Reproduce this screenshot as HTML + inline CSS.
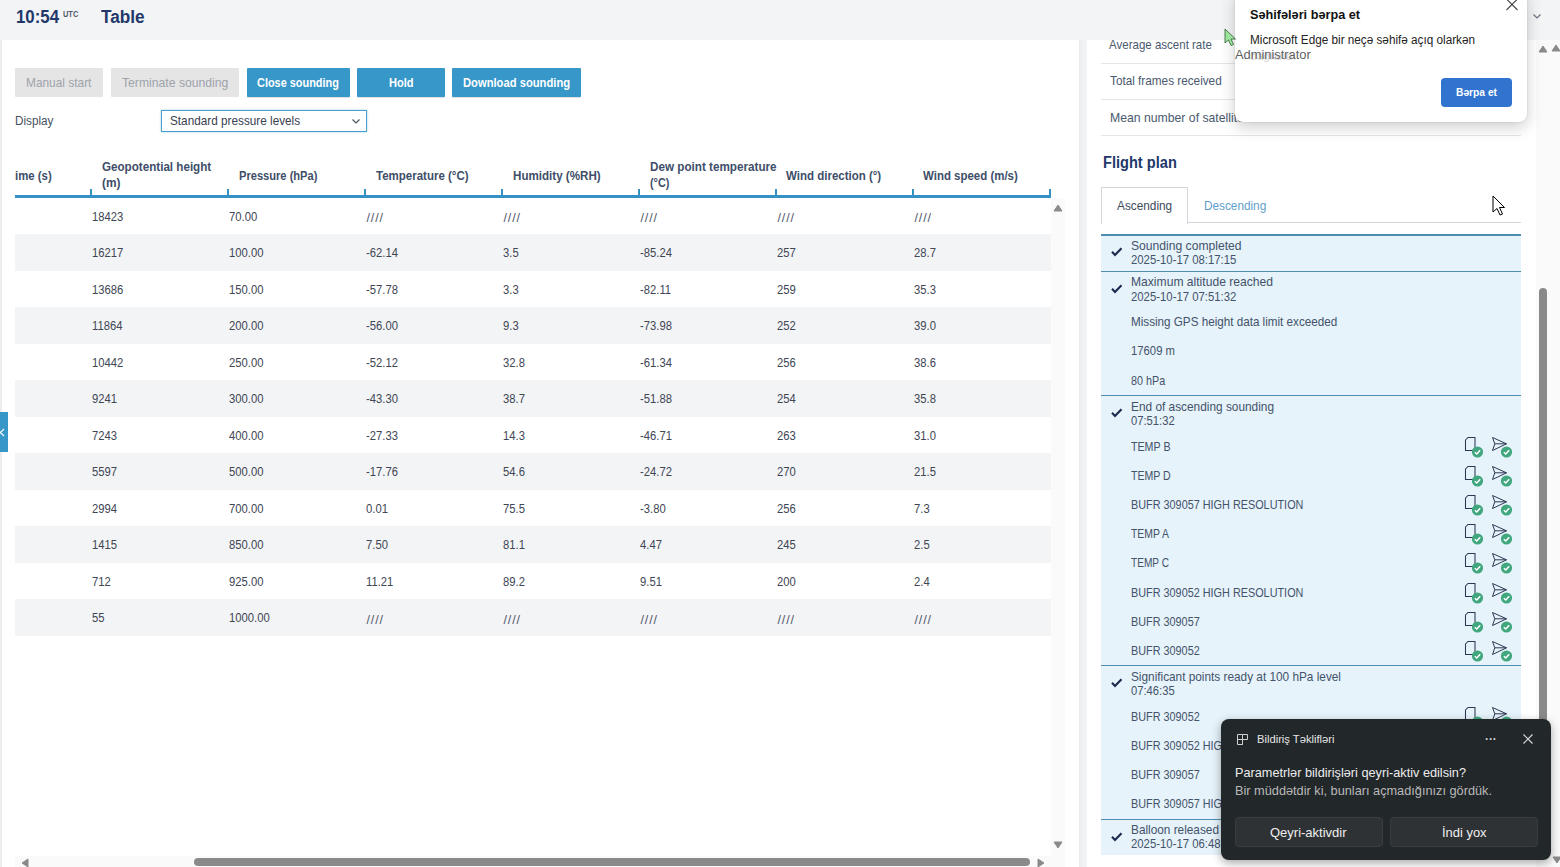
<!DOCTYPE html><html><head><meta charset="utf-8"><style>
html,body{margin:0;padding:0;width:1560px;height:867px;overflow:hidden;position:relative;background:#fff}
.t{position:absolute;white-space:nowrap;font-family:"Liberation Sans", sans-serif;line-height:1;transform-origin:0 0}
</style></head><body>
<div style="position:absolute;left:0px;top:0px;width:1560px;height:867px;background:#ffffff;"></div>
<div style="position:absolute;left:0px;top:40px;width:1.5px;height:827px;background:#ededef;"></div>
<div style="position:absolute;left:1079px;top:40px;width:7.5px;height:827px;background:linear-gradient(to right,#e9eaed,#f1f2f4 45%,#f3f4f6);"></div>
<div style="position:absolute;left:0px;top:0px;width:1560px;height:40px;background:#f3f4f6;"></div>
<div class="t" style="left:16.00px;top:9.00px;font-size:17.5px;font-weight:700;color:#22386a;transform:scaleX(0.9606)">10:54</div>
<div class="t" style="left:62.70px;top:9.00px;font-size:9.5px;font-weight:700;color:#4f5b6b;transform:scaleX(0.7834)">UTC</div>
<div class="t" style="left:101.00px;top:8.00px;font-size:18px;font-weight:700;color:#22386a;transform:scaleX(0.9565)">Table</div>
<div style="position:absolute;left:15px;top:68px;width:88px;height:29px;background:#e5e5e5;border-radius:1px;"></div>
<div class="t" style="left:26.40px;top:76.00px;font-size:13px;font-weight:400;color:#9ea3ab;transform:scaleX(0.9141)">Manual start</div>
<div style="position:absolute;left:110.8px;top:68px;width:128.39999999999998px;height:29px;background:#e5e5e5;border-radius:1px;"></div>
<div class="t" style="left:121.80px;top:76.00px;font-size:13px;font-weight:400;color:#9ea3ab;transform:scaleX(0.9377)">Terminate sounding</div>
<div style="position:absolute;left:246.9px;top:68px;width:102.99999999999997px;height:29px;background:#3897c9;border-radius:1px;box-shadow:0 1px 0 rgba(0,0,0,0.12);"></div>
<div class="t" style="left:257.30px;top:76.00px;font-size:13px;font-weight:700;color:#ffffff;transform:scaleX(0.8400)">Close sounding</div>
<div style="position:absolute;left:357.2px;top:68px;width:87.5px;height:29px;background:#3897c9;border-radius:1px;box-shadow:0 1px 0 rgba(0,0,0,0.12);"></div>
<div class="t" style="left:388.90px;top:76.00px;font-size:13px;font-weight:700;color:#ffffff;transform:scaleX(0.8515)">Hold</div>
<div style="position:absolute;left:452.3px;top:68px;width:128.59999999999997px;height:29px;background:#3897c9;border-radius:1px;box-shadow:0 1px 0 rgba(0,0,0,0.12);"></div>
<div class="t" style="left:463.40px;top:76.00px;font-size:13px;font-weight:700;color:#ffffff;transform:scaleX(0.8622)">Download sounding</div>
<div class="t" style="left:15.40px;top:114.00px;font-size:13px;font-weight:400;color:#4a5261;transform:scaleX(0.9009)">Display</div>
<div style="position:absolute;left:161px;top:110px;width:204px;height:20px;border:1px solid #4aa0cc;box-shadow:0 0 2px rgba(74,160,204,0.5);background:#fff"></div>
<div class="t" style="left:169.60px;top:114.00px;font-size:13px;font-weight:400;color:#3a4150;transform:scaleX(0.9047)">Standard pressure levels</div>
<svg style="position:absolute;left:350.5px;top:118px" width="10" height="7" viewBox="0 0 10 7"><path d="M1.5 1.5 L5 5 L8.5 1.5" fill="none" stroke="#4a5260" stroke-width="1.2"/></svg>
<div class="t" style="left:15.20px;top:170.00px;font-size:12.5px;font-weight:700;color:#404e69;transform:scaleX(0.9107)">ime (s)</div>
<div class="t" style="left:102.00px;top:161.00px;font-size:12.5px;font-weight:700;color:#404e69;transform:scaleX(0.9305)">Geopotential height</div>
<div class="t" style="left:102.00px;top:177.00px;font-size:12.5px;font-weight:700;color:#404e69;transform:scaleX(0.9510)">(m)</div>
<div class="t" style="left:238.90px;top:170.00px;font-size:12.5px;font-weight:700;color:#404e69;transform:scaleX(0.8885)">Pressure (hPa)</div>
<div class="t" style="left:376.00px;top:170.00px;font-size:12.5px;font-weight:700;color:#404e69;transform:scaleX(0.9202)">Temperature (°C)</div>
<div class="t" style="left:512.90px;top:170.00px;font-size:12.5px;font-weight:700;color:#404e69;transform:scaleX(0.9285)">Humidity (%RH)</div>
<div class="t" style="left:650.00px;top:161.00px;font-size:12.5px;font-weight:700;color:#404e69;transform:scaleX(0.9347)">Dew point temperature</div>
<div class="t" style="left:650.00px;top:177.00px;font-size:12.5px;font-weight:700;color:#404e69;transform:scaleX(0.8676)">(°C)</div>
<div class="t" style="left:786.30px;top:170.00px;font-size:12.5px;font-weight:700;color:#404e69;transform:scaleX(0.9198)">Wind direction (°)</div>
<div class="t" style="left:923.30px;top:170.00px;font-size:12.5px;font-weight:700;color:#404e69;transform:scaleX(0.9170)">Wind speed (m/s)</div>
<div style="position:absolute;left:15px;top:234.0px;width:1036px;height:36.5px;background:#f3f4f6;"></div>
<div style="position:absolute;left:15px;top:307.0px;width:1036px;height:36.5px;background:#f3f4f6;"></div>
<div style="position:absolute;left:15px;top:380.0px;width:1036px;height:36.5px;background:#f3f4f6;"></div>
<div style="position:absolute;left:15px;top:453.0px;width:1036px;height:36.5px;background:#f3f4f6;"></div>
<div style="position:absolute;left:15px;top:526.0px;width:1036px;height:36.5px;background:#f3f4f6;"></div>
<div style="position:absolute;left:15px;top:599.0px;width:1036px;height:36.5px;background:#f3f4f6;"></div>
<div style="position:absolute;left:15px;top:195px;width:1036px;height:2.6px;background:#3391c4;"></div>
<div style="position:absolute;left:90px;top:189px;width:2px;height:7px;background:#3391c4;"></div>
<div style="position:absolute;left:227px;top:189px;width:2px;height:7px;background:#3391c4;"></div>
<div style="position:absolute;left:364px;top:189px;width:2px;height:7px;background:#3391c4;"></div>
<div style="position:absolute;left:501px;top:189px;width:2px;height:7px;background:#3391c4;"></div>
<div style="position:absolute;left:638px;top:189px;width:2px;height:7px;background:#3391c4;"></div>
<div style="position:absolute;left:775px;top:189px;width:2px;height:7px;background:#3391c4;"></div>
<div style="position:absolute;left:912px;top:189px;width:2px;height:7px;background:#3391c4;"></div>
<div style="position:absolute;left:1049px;top:189px;width:2px;height:7px;background:#3391c4;"></div>
<div class="t" style="left:92.20px;top:211.00px;font-size:12.5px;font-weight:400;color:#404654;transform:scaleX(0.9000)">18423</div>
<div class="t" style="left:229.20px;top:211.00px;font-size:12.5px;font-weight:400;color:#404654;transform:scaleX(0.9000)">70.00</div>
<div class="t" style="left:366.50px;top:212.00px;font-size:12.5px;font-weight:400;color:#50566a;letter-spacing:0.898px">////</div>
<div class="t" style="left:503.50px;top:212.00px;font-size:12.5px;font-weight:400;color:#50566a;letter-spacing:0.898px">////</div>
<div class="t" style="left:640.50px;top:212.00px;font-size:12.5px;font-weight:400;color:#50566a;letter-spacing:0.898px">////</div>
<div class="t" style="left:777.50px;top:212.00px;font-size:12.5px;font-weight:400;color:#50566a;letter-spacing:0.898px">////</div>
<div class="t" style="left:914.50px;top:212.00px;font-size:12.5px;font-weight:400;color:#50566a;letter-spacing:0.898px">////</div>
<div class="t" style="left:92.20px;top:247.00px;font-size:12.5px;font-weight:400;color:#404654;transform:scaleX(0.9000)">16217</div>
<div class="t" style="left:229.20px;top:247.00px;font-size:12.5px;font-weight:400;color:#404654;transform:scaleX(0.9000)">100.00</div>
<div class="t" style="left:366.20px;top:247.00px;font-size:12.5px;font-weight:400;color:#404654;transform:scaleX(0.9000)">-62.14</div>
<div class="t" style="left:503.20px;top:247.00px;font-size:12.5px;font-weight:400;color:#404654;transform:scaleX(0.9000)">3.5</div>
<div class="t" style="left:640.20px;top:247.00px;font-size:12.5px;font-weight:400;color:#404654;transform:scaleX(0.9000)">-85.24</div>
<div class="t" style="left:777.20px;top:247.00px;font-size:12.5px;font-weight:400;color:#404654;transform:scaleX(0.9000)">257</div>
<div class="t" style="left:914.20px;top:247.00px;font-size:12.5px;font-weight:400;color:#404654;transform:scaleX(0.9000)">28.7</div>
<div class="t" style="left:92.20px;top:284.00px;font-size:12.5px;font-weight:400;color:#404654;transform:scaleX(0.9000)">13686</div>
<div class="t" style="left:229.20px;top:284.00px;font-size:12.5px;font-weight:400;color:#404654;transform:scaleX(0.9000)">150.00</div>
<div class="t" style="left:366.20px;top:284.00px;font-size:12.5px;font-weight:400;color:#404654;transform:scaleX(0.9000)">-57.78</div>
<div class="t" style="left:503.20px;top:284.00px;font-size:12.5px;font-weight:400;color:#404654;transform:scaleX(0.9000)">3.3</div>
<div class="t" style="left:640.20px;top:284.00px;font-size:12.5px;font-weight:400;color:#404654;transform:scaleX(0.9000)">-82.11</div>
<div class="t" style="left:777.20px;top:284.00px;font-size:12.5px;font-weight:400;color:#404654;transform:scaleX(0.9000)">259</div>
<div class="t" style="left:914.20px;top:284.00px;font-size:12.5px;font-weight:400;color:#404654;transform:scaleX(0.9000)">35.3</div>
<div class="t" style="left:92.20px;top:320.00px;font-size:12.5px;font-weight:400;color:#404654;transform:scaleX(0.9000)">11864</div>
<div class="t" style="left:229.20px;top:320.00px;font-size:12.5px;font-weight:400;color:#404654;transform:scaleX(0.9000)">200.00</div>
<div class="t" style="left:366.20px;top:320.00px;font-size:12.5px;font-weight:400;color:#404654;transform:scaleX(0.9000)">-56.00</div>
<div class="t" style="left:503.20px;top:320.00px;font-size:12.5px;font-weight:400;color:#404654;transform:scaleX(0.9000)">9.3</div>
<div class="t" style="left:640.20px;top:320.00px;font-size:12.5px;font-weight:400;color:#404654;transform:scaleX(0.9000)">-73.98</div>
<div class="t" style="left:777.20px;top:320.00px;font-size:12.5px;font-weight:400;color:#404654;transform:scaleX(0.9000)">252</div>
<div class="t" style="left:914.20px;top:320.00px;font-size:12.5px;font-weight:400;color:#404654;transform:scaleX(0.9000)">39.0</div>
<div class="t" style="left:92.20px;top:357.00px;font-size:12.5px;font-weight:400;color:#404654;transform:scaleX(0.9000)">10442</div>
<div class="t" style="left:229.20px;top:357.00px;font-size:12.5px;font-weight:400;color:#404654;transform:scaleX(0.9000)">250.00</div>
<div class="t" style="left:366.20px;top:357.00px;font-size:12.5px;font-weight:400;color:#404654;transform:scaleX(0.9000)">-52.12</div>
<div class="t" style="left:503.20px;top:357.00px;font-size:12.5px;font-weight:400;color:#404654;transform:scaleX(0.9000)">32.8</div>
<div class="t" style="left:640.20px;top:357.00px;font-size:12.5px;font-weight:400;color:#404654;transform:scaleX(0.9000)">-61.34</div>
<div class="t" style="left:777.20px;top:357.00px;font-size:12.5px;font-weight:400;color:#404654;transform:scaleX(0.9000)">256</div>
<div class="t" style="left:914.20px;top:357.00px;font-size:12.5px;font-weight:400;color:#404654;transform:scaleX(0.9000)">38.6</div>
<div class="t" style="left:92.20px;top:393.00px;font-size:12.5px;font-weight:400;color:#404654;transform:scaleX(0.9000)">9241</div>
<div class="t" style="left:229.20px;top:393.00px;font-size:12.5px;font-weight:400;color:#404654;transform:scaleX(0.9000)">300.00</div>
<div class="t" style="left:366.20px;top:393.00px;font-size:12.5px;font-weight:400;color:#404654;transform:scaleX(0.9000)">-43.30</div>
<div class="t" style="left:503.20px;top:393.00px;font-size:12.5px;font-weight:400;color:#404654;transform:scaleX(0.9000)">38.7</div>
<div class="t" style="left:640.20px;top:393.00px;font-size:12.5px;font-weight:400;color:#404654;transform:scaleX(0.9000)">-51.88</div>
<div class="t" style="left:777.20px;top:393.00px;font-size:12.5px;font-weight:400;color:#404654;transform:scaleX(0.9000)">254</div>
<div class="t" style="left:914.20px;top:393.00px;font-size:12.5px;font-weight:400;color:#404654;transform:scaleX(0.9000)">35.8</div>
<div class="t" style="left:92.20px;top:430.00px;font-size:12.5px;font-weight:400;color:#404654;transform:scaleX(0.9000)">7243</div>
<div class="t" style="left:229.20px;top:430.00px;font-size:12.5px;font-weight:400;color:#404654;transform:scaleX(0.9000)">400.00</div>
<div class="t" style="left:366.20px;top:430.00px;font-size:12.5px;font-weight:400;color:#404654;transform:scaleX(0.9000)">-27.33</div>
<div class="t" style="left:503.20px;top:430.00px;font-size:12.5px;font-weight:400;color:#404654;transform:scaleX(0.9000)">14.3</div>
<div class="t" style="left:640.20px;top:430.00px;font-size:12.5px;font-weight:400;color:#404654;transform:scaleX(0.9000)">-46.71</div>
<div class="t" style="left:777.20px;top:430.00px;font-size:12.5px;font-weight:400;color:#404654;transform:scaleX(0.9000)">263</div>
<div class="t" style="left:914.20px;top:430.00px;font-size:12.5px;font-weight:400;color:#404654;transform:scaleX(0.9000)">31.0</div>
<div class="t" style="left:92.20px;top:466.00px;font-size:12.5px;font-weight:400;color:#404654;transform:scaleX(0.9000)">5597</div>
<div class="t" style="left:229.20px;top:466.00px;font-size:12.5px;font-weight:400;color:#404654;transform:scaleX(0.9000)">500.00</div>
<div class="t" style="left:366.20px;top:466.00px;font-size:12.5px;font-weight:400;color:#404654;transform:scaleX(0.9000)">-17.76</div>
<div class="t" style="left:503.20px;top:466.00px;font-size:12.5px;font-weight:400;color:#404654;transform:scaleX(0.9000)">54.6</div>
<div class="t" style="left:640.20px;top:466.00px;font-size:12.5px;font-weight:400;color:#404654;transform:scaleX(0.9000)">-24.72</div>
<div class="t" style="left:777.20px;top:466.00px;font-size:12.5px;font-weight:400;color:#404654;transform:scaleX(0.9000)">270</div>
<div class="t" style="left:914.20px;top:466.00px;font-size:12.5px;font-weight:400;color:#404654;transform:scaleX(0.9000)">21.5</div>
<div class="t" style="left:92.20px;top:503.00px;font-size:12.5px;font-weight:400;color:#404654;transform:scaleX(0.9000)">2994</div>
<div class="t" style="left:229.20px;top:503.00px;font-size:12.5px;font-weight:400;color:#404654;transform:scaleX(0.9000)">700.00</div>
<div class="t" style="left:366.20px;top:503.00px;font-size:12.5px;font-weight:400;color:#404654;transform:scaleX(0.9000)">0.01</div>
<div class="t" style="left:503.20px;top:503.00px;font-size:12.5px;font-weight:400;color:#404654;transform:scaleX(0.9000)">75.5</div>
<div class="t" style="left:640.20px;top:503.00px;font-size:12.5px;font-weight:400;color:#404654;transform:scaleX(0.9000)">-3.80</div>
<div class="t" style="left:777.20px;top:503.00px;font-size:12.5px;font-weight:400;color:#404654;transform:scaleX(0.9000)">256</div>
<div class="t" style="left:914.20px;top:503.00px;font-size:12.5px;font-weight:400;color:#404654;transform:scaleX(0.9000)">7.3</div>
<div class="t" style="left:92.20px;top:539.00px;font-size:12.5px;font-weight:400;color:#404654;transform:scaleX(0.9000)">1415</div>
<div class="t" style="left:229.20px;top:539.00px;font-size:12.5px;font-weight:400;color:#404654;transform:scaleX(0.9000)">850.00</div>
<div class="t" style="left:366.20px;top:539.00px;font-size:12.5px;font-weight:400;color:#404654;transform:scaleX(0.9000)">7.50</div>
<div class="t" style="left:503.20px;top:539.00px;font-size:12.5px;font-weight:400;color:#404654;transform:scaleX(0.9000)">81.1</div>
<div class="t" style="left:640.20px;top:539.00px;font-size:12.5px;font-weight:400;color:#404654;transform:scaleX(0.9000)">4.47</div>
<div class="t" style="left:777.20px;top:539.00px;font-size:12.5px;font-weight:400;color:#404654;transform:scaleX(0.9000)">245</div>
<div class="t" style="left:914.20px;top:539.00px;font-size:12.5px;font-weight:400;color:#404654;transform:scaleX(0.9000)">2.5</div>
<div class="t" style="left:92.20px;top:576.00px;font-size:12.5px;font-weight:400;color:#404654;transform:scaleX(0.9000)">712</div>
<div class="t" style="left:229.20px;top:576.00px;font-size:12.5px;font-weight:400;color:#404654;transform:scaleX(0.9000)">925.00</div>
<div class="t" style="left:366.20px;top:576.00px;font-size:12.5px;font-weight:400;color:#404654;transform:scaleX(0.9000)">11.21</div>
<div class="t" style="left:503.20px;top:576.00px;font-size:12.5px;font-weight:400;color:#404654;transform:scaleX(0.9000)">89.2</div>
<div class="t" style="left:640.20px;top:576.00px;font-size:12.5px;font-weight:400;color:#404654;transform:scaleX(0.9000)">9.51</div>
<div class="t" style="left:777.20px;top:576.00px;font-size:12.5px;font-weight:400;color:#404654;transform:scaleX(0.9000)">200</div>
<div class="t" style="left:914.20px;top:576.00px;font-size:12.5px;font-weight:400;color:#404654;transform:scaleX(0.9000)">2.4</div>
<div class="t" style="left:92.20px;top:612.00px;font-size:12.5px;font-weight:400;color:#404654;transform:scaleX(0.9000)">55</div>
<div class="t" style="left:229.20px;top:612.00px;font-size:12.5px;font-weight:400;color:#404654;transform:scaleX(0.9000)">1000.00</div>
<div class="t" style="left:366.50px;top:614.00px;font-size:12.5px;font-weight:400;color:#50566a;letter-spacing:0.898px">////</div>
<div class="t" style="left:503.50px;top:614.00px;font-size:12.5px;font-weight:400;color:#50566a;letter-spacing:0.898px">////</div>
<div class="t" style="left:640.50px;top:614.00px;font-size:12.5px;font-weight:400;color:#50566a;letter-spacing:0.898px">////</div>
<div class="t" style="left:777.50px;top:614.00px;font-size:12.5px;font-weight:400;color:#50566a;letter-spacing:0.898px">////</div>
<div class="t" style="left:914.50px;top:614.00px;font-size:12.5px;font-weight:400;color:#50566a;letter-spacing:0.898px">////</div>
<div style="position:absolute;left:1051px;top:197.5px;width:14px;height:669.5px;background:#fafafa;"></div>
<svg style="position:absolute;left:1053px;top:204px" width="10" height="8"><path d="M1 7 L5 1 L9 7 Z" fill="#8a8a8a" stroke="#8a8a8a" stroke-linejoin="round" stroke-width="1"/></svg>
<svg style="position:absolute;left:1053px;top:841px" width="10" height="8"><path d="M1 1 L5 7 L9 1 Z" fill="#8a8a8a" stroke="#8a8a8a" stroke-linejoin="round" stroke-width="1"/></svg>
<div style="position:absolute;left:15px;top:855.8px;width:1036px;height:11.2px;background:#fafafa;"></div>
<svg style="position:absolute;left:21px;top:858px" width="8" height="10"><path d="M7 1 L1 5 L7 9 Z" fill="#8a8a8a" stroke="#8a8a8a" stroke-linejoin="round" stroke-width="1"/></svg>
<svg style="position:absolute;left:1037px;top:858px" width="8" height="10"><path d="M1 1 L7 5 L1 9 Z" fill="#8a8a8a" stroke="#8a8a8a" stroke-linejoin="round" stroke-width="1"/></svg>
<div style="position:absolute;left:194px;top:858.3px;width:836px;height:7.9px;background:#8a8a8a;border-radius:4px;"></div>
<div style="position:absolute;left:0px;top:412px;width:7.5px;height:40px;background:#3897c9;"></div>
<svg style="position:absolute;left:0px;top:428px" width="6" height="9"><path d="M-3 1 L4 8 M4 1 L-3 8" stroke="#fff" stroke-width="1.2"/></svg>
<div class="t" style="left:1109.00px;top:38.00px;font-size:13px;font-weight:400;color:#4a596e;transform:scaleX(0.8861)">Average ascent rate</div>
<div class="t" style="left:1109.80px;top:74.00px;font-size:13px;font-weight:400;color:#4a596e;transform:scaleX(0.9040)">Total frames received</div>
<div class="t" style="left:1109.60px;top:111.00px;font-size:13px;font-weight:400;color:#4a596e;transform:scaleX(0.9405)">Mean number of satellites</div>
<div style="position:absolute;left:1101px;top:62.5px;width:420px;height:1px;background:#e4e6e9;"></div>
<div style="position:absolute;left:1101px;top:98.8px;width:420px;height:1px;background:#e4e6e9;"></div>
<div style="position:absolute;left:1101px;top:135.1px;width:420px;height:1px;background:#e4e6e9;"></div>
<div style="position:absolute;left:1087px;top:0px;width:473px;height:40px;background:#f3f4f6;"></div>
<svg style="position:absolute;left:1532px;top:13px" width="10" height="7"><path d="M1.5 1.5 L5 5 L8.5 1.5" fill="none" stroke="#6b7280" stroke-width="1.2"/></svg>
<div class="t" style="left:1102.60px;top:155.00px;font-size:16px;font-weight:700;color:#22386a;transform:scaleX(0.9125)">Flight plan</div>
<div style="position:absolute;left:1101.3px;top:186.8px;width:84.4px;height:35.8px;border:1px solid #d3d6da;border-bottom:none;background:#fff"></div>
<div style="position:absolute;left:1187.7px;top:222px;width:333.5px;height:1px;background:#d3d6da;"></div>
<div class="t" style="left:1117.40px;top:199.00px;font-size:13px;font-weight:400;color:#3e4a5c;transform:scaleX(0.9091)">Ascending</div>
<div class="t" style="left:1203.80px;top:199.00px;font-size:13px;font-weight:400;color:#5fa0cb;transform:scaleX(0.9060)">Descending</div>
<div style="position:absolute;left:1101px;top:234px;width:420px;height:621px;background:#e6f3fa;"></div>
<div style="position:absolute;left:1101px;top:234.2px;width:420px;height:1.4px;background:#4e8db0;"></div>
<div style="position:absolute;left:1101px;top:271px;width:420px;height:1.4px;background:#4e8db0;"></div>
<div style="position:absolute;left:1101px;top:395px;width:420px;height:1.4px;background:#4e8db0;"></div>
<div style="position:absolute;left:1101px;top:665px;width:420px;height:1.4px;background:#4e8db0;"></div>
<div style="position:absolute;left:1101px;top:818.6px;width:420px;height:1.4px;background:#4e8db0;"></div>
<div class="t" style="left:1131.30px;top:239.00px;font-size:13px;font-weight:400;color:#44526a;transform:scaleX(0.9322)">Sounding completed</div>
<div class="t" style="left:1131.30px;top:253.00px;font-size:13px;font-weight:400;color:#44526a;transform:scaleX(0.8731)">2025-10-17 08:17:15</div>
<svg style="position:absolute;left:1110px;top:246.3px" width="13" height="11" viewBox="0 0 13 11"><path d="M2 5.8 L5 9 L11.5 2.2" fill="none" stroke="#1b2a4e" stroke-width="2.1"/></svg>
<div class="t" style="left:1131.30px;top:275.00px;font-size:13px;font-weight:400;color:#44526a;transform:scaleX(0.9313)">Maximum altitude reached</div>
<div class="t" style="left:1131.30px;top:290.00px;font-size:13px;font-weight:400;color:#44526a;transform:scaleX(0.8731)">2025-10-17 07:51:32</div>
<svg style="position:absolute;left:1110px;top:282.7px" width="13" height="11" viewBox="0 0 13 11"><path d="M2 5.8 L5 9 L11.5 2.2" fill="none" stroke="#1b2a4e" stroke-width="2.1"/></svg>
<div class="t" style="left:1131.30px;top:315.00px;font-size:13px;font-weight:400;color:#44526a;transform:scaleX(0.8973)">Missing GPS height data limit exceeded</div>
<div class="t" style="left:1131.30px;top:344.00px;font-size:13px;font-weight:400;color:#44526a;transform:scaleX(0.8697)">17609 m</div>
<div class="t" style="left:1131.30px;top:374.00px;font-size:13px;font-weight:400;color:#44526a;transform:scaleX(0.8300)">80 hPa</div>
<div class="t" style="left:1131.30px;top:400.00px;font-size:13px;font-weight:400;color:#44526a;transform:scaleX(0.9116)">End of ascending sounding</div>
<div class="t" style="left:1131.30px;top:414.00px;font-size:13px;font-weight:400;color:#44526a;transform:scaleX(0.8635)">07:51:32</div>
<svg style="position:absolute;left:1110px;top:407.3px" width="13" height="11" viewBox="0 0 13 11"><path d="M2 5.8 L5 9 L11.5 2.2" fill="none" stroke="#1b2a4e" stroke-width="2.1"/></svg>
<div class="t" style="left:1131.30px;top:440.00px;font-size:13px;font-weight:400;color:#44526a;transform:scaleX(0.8200)">TEMP B</div>
<svg style="position:absolute;left:1462px;top:435.5px" width="52" height="24" viewBox="0 0 52 24">
<path d="M3.5 4 L6 1.5 L13 1.5 L13 14.5 L3.5 14.5 Z" fill="none" stroke="#2b3853" stroke-width="1.05"/>
<circle cx="15.5" cy="16" r="5.6" fill="#41a77e"/>
<path d="M12.8 16.2 L14.8 18 L18.2 14.2" fill="none" stroke="#fff" stroke-width="1.5"/>
<path d="M30.5 1.5 L44.5 7.8 L30.5 14.5 L32.8 7.8 Z M32.8 7.8 L44.5 7.8" fill="none" stroke="#2b3853" stroke-width="1" stroke-linejoin="miter"/>
<circle cx="44.5" cy="16" r="5.6" fill="#41a77e"/>
<path d="M41.8 16.2 L43.8 18 L47.2 14.2" fill="none" stroke="#fff" stroke-width="1.5"/>
</svg>
<div class="t" style="left:1131.30px;top:469.00px;font-size:13px;font-weight:400;color:#44526a;transform:scaleX(0.8120)">TEMP D</div>
<svg style="position:absolute;left:1462px;top:464.7px" width="52" height="24" viewBox="0 0 52 24">
<path d="M3.5 4 L6 1.5 L13 1.5 L13 14.5 L3.5 14.5 Z" fill="none" stroke="#2b3853" stroke-width="1.05"/>
<circle cx="15.5" cy="16" r="5.6" fill="#41a77e"/>
<path d="M12.8 16.2 L14.8 18 L18.2 14.2" fill="none" stroke="#fff" stroke-width="1.5"/>
<path d="M30.5 1.5 L44.5 7.8 L30.5 14.5 L32.8 7.8 Z M32.8 7.8 L44.5 7.8" fill="none" stroke="#2b3853" stroke-width="1" stroke-linejoin="miter"/>
<circle cx="44.5" cy="16" r="5.6" fill="#41a77e"/>
<path d="M41.8 16.2 L43.8 18 L47.2 14.2" fill="none" stroke="#fff" stroke-width="1.5"/>
</svg>
<div class="t" style="left:1131.30px;top:498.00px;font-size:13px;font-weight:400;color:#44526a;transform:scaleX(0.8344)">BUFR 309057 HIGH RESOLUTION</div>
<svg style="position:absolute;left:1462px;top:493.9px" width="52" height="24" viewBox="0 0 52 24">
<path d="M3.5 4 L6 1.5 L13 1.5 L13 14.5 L3.5 14.5 Z" fill="none" stroke="#2b3853" stroke-width="1.05"/>
<circle cx="15.5" cy="16" r="5.6" fill="#41a77e"/>
<path d="M12.8 16.2 L14.8 18 L18.2 14.2" fill="none" stroke="#fff" stroke-width="1.5"/>
<path d="M30.5 1.5 L44.5 7.8 L30.5 14.5 L32.8 7.8 Z M32.8 7.8 L44.5 7.8" fill="none" stroke="#2b3853" stroke-width="1" stroke-linejoin="miter"/>
<circle cx="44.5" cy="16" r="5.6" fill="#41a77e"/>
<path d="M41.8 16.2 L43.8 18 L47.2 14.2" fill="none" stroke="#fff" stroke-width="1.5"/>
</svg>
<div class="t" style="left:1131.30px;top:527.00px;font-size:13px;font-weight:400;color:#44526a;transform:scaleX(0.8008)">TEMP A</div>
<svg style="position:absolute;left:1462px;top:523.1px" width="52" height="24" viewBox="0 0 52 24">
<path d="M3.5 4 L6 1.5 L13 1.5 L13 14.5 L3.5 14.5 Z" fill="none" stroke="#2b3853" stroke-width="1.05"/>
<circle cx="15.5" cy="16" r="5.6" fill="#41a77e"/>
<path d="M12.8 16.2 L14.8 18 L18.2 14.2" fill="none" stroke="#fff" stroke-width="1.5"/>
<path d="M30.5 1.5 L44.5 7.8 L30.5 14.5 L32.8 7.8 Z M32.8 7.8 L44.5 7.8" fill="none" stroke="#2b3853" stroke-width="1" stroke-linejoin="miter"/>
<circle cx="44.5" cy="16" r="5.6" fill="#41a77e"/>
<path d="M41.8 16.2 L43.8 18 L47.2 14.2" fill="none" stroke="#fff" stroke-width="1.5"/>
</svg>
<div class="t" style="left:1131.30px;top:556.00px;font-size:13px;font-weight:400;color:#44526a;transform:scaleX(0.7772)">TEMP C</div>
<svg style="position:absolute;left:1462px;top:552.3px" width="52" height="24" viewBox="0 0 52 24">
<path d="M3.5 4 L6 1.5 L13 1.5 L13 14.5 L3.5 14.5 Z" fill="none" stroke="#2b3853" stroke-width="1.05"/>
<circle cx="15.5" cy="16" r="5.6" fill="#41a77e"/>
<path d="M12.8 16.2 L14.8 18 L18.2 14.2" fill="none" stroke="#fff" stroke-width="1.5"/>
<path d="M30.5 1.5 L44.5 7.8 L30.5 14.5 L32.8 7.8 Z M32.8 7.8 L44.5 7.8" fill="none" stroke="#2b3853" stroke-width="1" stroke-linejoin="miter"/>
<circle cx="44.5" cy="16" r="5.6" fill="#41a77e"/>
<path d="M41.8 16.2 L43.8 18 L47.2 14.2" fill="none" stroke="#fff" stroke-width="1.5"/>
</svg>
<div class="t" style="left:1131.30px;top:586.00px;font-size:13px;font-weight:400;color:#44526a;transform:scaleX(0.8344)">BUFR 309052 HIGH RESOLUTION</div>
<svg style="position:absolute;left:1462px;top:581.5px" width="52" height="24" viewBox="0 0 52 24">
<path d="M3.5 4 L6 1.5 L13 1.5 L13 14.5 L3.5 14.5 Z" fill="none" stroke="#2b3853" stroke-width="1.05"/>
<circle cx="15.5" cy="16" r="5.6" fill="#41a77e"/>
<path d="M12.8 16.2 L14.8 18 L18.2 14.2" fill="none" stroke="#fff" stroke-width="1.5"/>
<path d="M30.5 1.5 L44.5 7.8 L30.5 14.5 L32.8 7.8 Z M32.8 7.8 L44.5 7.8" fill="none" stroke="#2b3853" stroke-width="1" stroke-linejoin="miter"/>
<circle cx="44.5" cy="16" r="5.6" fill="#41a77e"/>
<path d="M41.8 16.2 L43.8 18 L47.2 14.2" fill="none" stroke="#fff" stroke-width="1.5"/>
</svg>
<div class="t" style="left:1131.30px;top:615.00px;font-size:13px;font-weight:400;color:#44526a;transform:scaleX(0.8338)">BUFR 309057</div>
<svg style="position:absolute;left:1462px;top:610.7px" width="52" height="24" viewBox="0 0 52 24">
<path d="M3.5 4 L6 1.5 L13 1.5 L13 14.5 L3.5 14.5 Z" fill="none" stroke="#2b3853" stroke-width="1.05"/>
<circle cx="15.5" cy="16" r="5.6" fill="#41a77e"/>
<path d="M12.8 16.2 L14.8 18 L18.2 14.2" fill="none" stroke="#fff" stroke-width="1.5"/>
<path d="M30.5 1.5 L44.5 7.8 L30.5 14.5 L32.8 7.8 Z M32.8 7.8 L44.5 7.8" fill="none" stroke="#2b3853" stroke-width="1" stroke-linejoin="miter"/>
<circle cx="44.5" cy="16" r="5.6" fill="#41a77e"/>
<path d="M41.8 16.2 L43.8 18 L47.2 14.2" fill="none" stroke="#fff" stroke-width="1.5"/>
</svg>
<div class="t" style="left:1131.30px;top:644.00px;font-size:13px;font-weight:400;color:#44526a;transform:scaleX(0.8338)">BUFR 309052</div>
<svg style="position:absolute;left:1462px;top:639.9px" width="52" height="24" viewBox="0 0 52 24">
<path d="M3.5 4 L6 1.5 L13 1.5 L13 14.5 L3.5 14.5 Z" fill="none" stroke="#2b3853" stroke-width="1.05"/>
<circle cx="15.5" cy="16" r="5.6" fill="#41a77e"/>
<path d="M12.8 16.2 L14.8 18 L18.2 14.2" fill="none" stroke="#fff" stroke-width="1.5"/>
<path d="M30.5 1.5 L44.5 7.8 L30.5 14.5 L32.8 7.8 Z M32.8 7.8 L44.5 7.8" fill="none" stroke="#2b3853" stroke-width="1" stroke-linejoin="miter"/>
<circle cx="44.5" cy="16" r="5.6" fill="#41a77e"/>
<path d="M41.8 16.2 L43.8 18 L47.2 14.2" fill="none" stroke="#fff" stroke-width="1.5"/>
</svg>
<div class="t" style="left:1131.30px;top:670.00px;font-size:13px;font-weight:400;color:#44526a;transform:scaleX(0.9080)">Significant points ready at 100 hPa level</div>
<div class="t" style="left:1131.30px;top:684.00px;font-size:13px;font-weight:400;color:#44526a;transform:scaleX(0.8635)">07:46:35</div>
<svg style="position:absolute;left:1110px;top:677.0px" width="13" height="11" viewBox="0 0 13 11"><path d="M2 5.8 L5 9 L11.5 2.2" fill="none" stroke="#1b2a4e" stroke-width="2.1"/></svg>
<div class="t" style="left:1131.30px;top:710.00px;font-size:13px;font-weight:400;color:#44526a;transform:scaleX(0.8338)">BUFR 309052</div>
<svg style="position:absolute;left:1462px;top:705.8px" width="52" height="24" viewBox="0 0 52 24">
<path d="M3.5 4 L6 1.5 L13 1.5 L13 14.5 L3.5 14.5 Z" fill="none" stroke="#2b3853" stroke-width="1.05"/>
<circle cx="15.5" cy="16" r="5.6" fill="#41a77e"/>
<path d="M12.8 16.2 L14.8 18 L18.2 14.2" fill="none" stroke="#fff" stroke-width="1.5"/>
<path d="M30.5 1.5 L44.5 7.8 L30.5 14.5 L32.8 7.8 Z M32.8 7.8 L44.5 7.8" fill="none" stroke="#2b3853" stroke-width="1" stroke-linejoin="miter"/>
<circle cx="44.5" cy="16" r="5.6" fill="#41a77e"/>
<path d="M41.8 16.2 L43.8 18 L47.2 14.2" fill="none" stroke="#fff" stroke-width="1.5"/>
</svg>
<div class="t" style="left:1131.30px;top:739.00px;font-size:13px;font-weight:400;color:#44526a;transform:scaleX(0.8344)">BUFR 309052 HIGH RESOLUTION</div>
<svg style="position:absolute;left:1462px;top:735.0px" width="52" height="24" viewBox="0 0 52 24">
<path d="M3.5 4 L6 1.5 L13 1.5 L13 14.5 L3.5 14.5 Z" fill="none" stroke="#2b3853" stroke-width="1.05"/>
<circle cx="15.5" cy="16" r="5.6" fill="#41a77e"/>
<path d="M12.8 16.2 L14.8 18 L18.2 14.2" fill="none" stroke="#fff" stroke-width="1.5"/>
<path d="M30.5 1.5 L44.5 7.8 L30.5 14.5 L32.8 7.8 Z M32.8 7.8 L44.5 7.8" fill="none" stroke="#2b3853" stroke-width="1" stroke-linejoin="miter"/>
<circle cx="44.5" cy="16" r="5.6" fill="#41a77e"/>
<path d="M41.8 16.2 L43.8 18 L47.2 14.2" fill="none" stroke="#fff" stroke-width="1.5"/>
</svg>
<div class="t" style="left:1131.30px;top:768.00px;font-size:13px;font-weight:400;color:#44526a;transform:scaleX(0.8338)">BUFR 309057</div>
<svg style="position:absolute;left:1462px;top:764.1999999999999px" width="52" height="24" viewBox="0 0 52 24">
<path d="M3.5 4 L6 1.5 L13 1.5 L13 14.5 L3.5 14.5 Z" fill="none" stroke="#2b3853" stroke-width="1.05"/>
<circle cx="15.5" cy="16" r="5.6" fill="#41a77e"/>
<path d="M12.8 16.2 L14.8 18 L18.2 14.2" fill="none" stroke="#fff" stroke-width="1.5"/>
<path d="M30.5 1.5 L44.5 7.8 L30.5 14.5 L32.8 7.8 Z M32.8 7.8 L44.5 7.8" fill="none" stroke="#2b3853" stroke-width="1" stroke-linejoin="miter"/>
<circle cx="44.5" cy="16" r="5.6" fill="#41a77e"/>
<path d="M41.8 16.2 L43.8 18 L47.2 14.2" fill="none" stroke="#fff" stroke-width="1.5"/>
</svg>
<div class="t" style="left:1131.30px;top:797.00px;font-size:13px;font-weight:400;color:#44526a;transform:scaleX(0.8344)">BUFR 309057 HIGH RESOLUTION</div>
<svg style="position:absolute;left:1462px;top:793.4px" width="52" height="24" viewBox="0 0 52 24">
<path d="M3.5 4 L6 1.5 L13 1.5 L13 14.5 L3.5 14.5 Z" fill="none" stroke="#2b3853" stroke-width="1.05"/>
<circle cx="15.5" cy="16" r="5.6" fill="#41a77e"/>
<path d="M12.8 16.2 L14.8 18 L18.2 14.2" fill="none" stroke="#fff" stroke-width="1.5"/>
<path d="M30.5 1.5 L44.5 7.8 L30.5 14.5 L32.8 7.8 Z M32.8 7.8 L44.5 7.8" fill="none" stroke="#2b3853" stroke-width="1" stroke-linejoin="miter"/>
<circle cx="44.5" cy="16" r="5.6" fill="#41a77e"/>
<path d="M41.8 16.2 L43.8 18 L47.2 14.2" fill="none" stroke="#fff" stroke-width="1.5"/>
</svg>
<div class="t" style="left:1131.30px;top:823.00px;font-size:13px;font-weight:400;color:#44526a;transform:scaleX(0.9085)">Balloon released</div>
<div class="t" style="left:1131.30px;top:837.00px;font-size:13px;font-weight:400;color:#44526a;transform:scaleX(0.8731)">2025-10-17 06:48:12</div>
<svg style="position:absolute;left:1110px;top:830.5px" width="13" height="11" viewBox="0 0 13 11"><path d="M2 5.8 L5 9 L11.5 2.2" fill="none" stroke="#1b2a4e" stroke-width="2.1"/></svg>
<div style="position:absolute;left:1536px;top:40px;width:24px;height:827px;background:#fafafa;"></div>
<div style="position:absolute;left:1538.8px;top:287.7px;width:8.4px;height:570px;background:#8a8a8a;border-radius:4.2px;"></div>
<svg style="position:absolute;left:1538px;top:45px" width="10" height="8"><path d="M1 7 L5 1 L9 7 Z" fill="#8a8a8a" stroke="#8a8a8a" stroke-linejoin="round"/></svg>
<svg style="position:absolute;left:1551px;top:44px" width="10" height="8"><path d="M1 7 L5 1 L9 7 Z" fill="#8a8a8a" stroke="#8a8a8a" stroke-linejoin="round"/></svg>
<svg style="position:absolute;left:1551.5px;top:855.5px" width="10" height="8"><path d="M1 1 L5 7 L9 1 Z" fill="#8a8a8a" stroke="#8a8a8a" stroke-linejoin="round"/></svg>
<svg style="position:absolute;left:1491.5px;top:194.5px" width="14" height="22" viewBox="0 0 14 22"><path d="M1 1 L1 17 L5 13.5 L8 20 L10.5 19 L7.5 12.5 L12.5 12.5 Z" fill="#fff" stroke="#000" stroke-width="1" stroke-linejoin="round"/></svg>
<div style="position:absolute;left:1234.8px;top:-10px;width:292px;height:132px;background:#fff;border-radius:8px;box-shadow:0 5px 16px rgba(0,0,0,0.2),0 0 2px rgba(0,0,0,0.15)"></div>
<div class="t" style="left:1249.50px;top:9.00px;font-size:12.5px;font-weight:700;color:#111111;transform:scaleX(1.0150)">Səhifələri bərpa et</div>
<div class="t" style="left:1249.50px;top:34.00px;font-size:12px;font-weight:400;color:#222222;transform:scaleX(0.9777)">Microsoft Edge bir neçə səhifə açıq olarkən</div>
<div class="t" style="left:1250.00px;top:51.00px;font-size:11px;font-weight:400;color:#d8d8d8;transform:scaleX(1.0896)">bağlandı</div>
<div class="t" style="left:1235.00px;top:49.00px;font-size:12.5px;font-weight:400;color:#5f5f5f;transform:scaleX(1.0293)">Administrator</div>
<svg style="position:absolute;left:1505px;top:-1px" width="14" height="13"><path d="M1.5 0 L12.5 11 M12.5 0 L1.5 11" stroke="#444" stroke-width="1.1"/></svg>
<div style="position:absolute;left:1441px;top:77.8px;width:71px;height:29.2px;background:#3074d0;border-radius:4px;"></div>
<div class="t" style="left:1456.00px;top:87.00px;font-size:11.5px;font-weight:700;color:#ffffff;transform:scaleX(0.8907)">Bərpa et</div>
<svg style="position:absolute;left:1224px;top:28px" width="13" height="19" viewBox="0 0 13 19"><path d="M1 1 L1 15 L4.5 12 L7 17.5 L9.5 16.5 L7 11 L11.5 11 Z" fill="#9be29b" stroke="#2d5a2d" stroke-width="0.8" stroke-linejoin="round"/></svg>
<div style="position:absolute;left:1221.3px;top:719px;width:330px;height:141px;background:#22272a;border-radius:8px;box-shadow:0 3px 10px rgba(0,0,0,0.35)"></div>
<svg style="position:absolute;left:1236px;top:733px" width="13" height="13" viewBox="0 0 13 13"><path d="M1.5 1.5 H6.5 V11.5 H1.5 Z M6.5 1.5 H11.5 V6.5 H1.5 M6.5 6.5 V11.5" fill="none" stroke="#d0d0d0" stroke-width="1"/></svg>
<div class="t" style="left:1256.70px;top:734.00px;font-size:11.5px;font-weight:400;color:#e6e6e6;transform:scaleX(0.9727)">Bildiriş Təklifləri</div>
<div class="t" style="left:1485.00px;top:733.00px;font-size:12px;font-weight:700;color:#cfcfcf;transform:scaleX(0.9750)">···</div>
<svg style="position:absolute;left:1522px;top:733px" width="12" height="12"><path d="M1.5 1.5 L10.5 10.5 M10.5 1.5 L1.5 10.5" stroke="#d8d8d8" stroke-width="1.2"/></svg>
<div class="t" style="left:1234.60px;top:766.00px;font-size:13px;font-weight:400;color:#ededed;transform:scaleX(0.9778)">Parametrlər bildirişləri qeyri-aktiv edilsin?</div>
<div class="t" style="left:1234.60px;top:784.00px;font-size:13px;font-weight:400;color:#b9b9b9;transform:scaleX(0.9798)">Bir müddətdir ki, bunları açmadığınızı gördük.</div>
<div style="position:absolute;left:1234.7px;top:817.1px;width:146px;height:27.7px;background:#2f3235;border:1px solid #3a3d40;border-radius:4px"></div>
<div style="position:absolute;left:1390.4px;top:817.1px;width:145.5px;height:27.7px;background:#2f3235;border:1px solid #3a3d40;border-radius:4px"></div>
<div class="t" style="left:1270.20px;top:826.00px;font-size:13px;font-weight:400;color:#f0f0f0;transform:scaleX(0.9990)">Qeyri-aktivdir</div>
<div class="t" style="left:1441.90px;top:826.00px;font-size:13px;font-weight:400;color:#f0f0f0;transform:scaleX(0.9953)">İndi yox</div>
</body></html>
